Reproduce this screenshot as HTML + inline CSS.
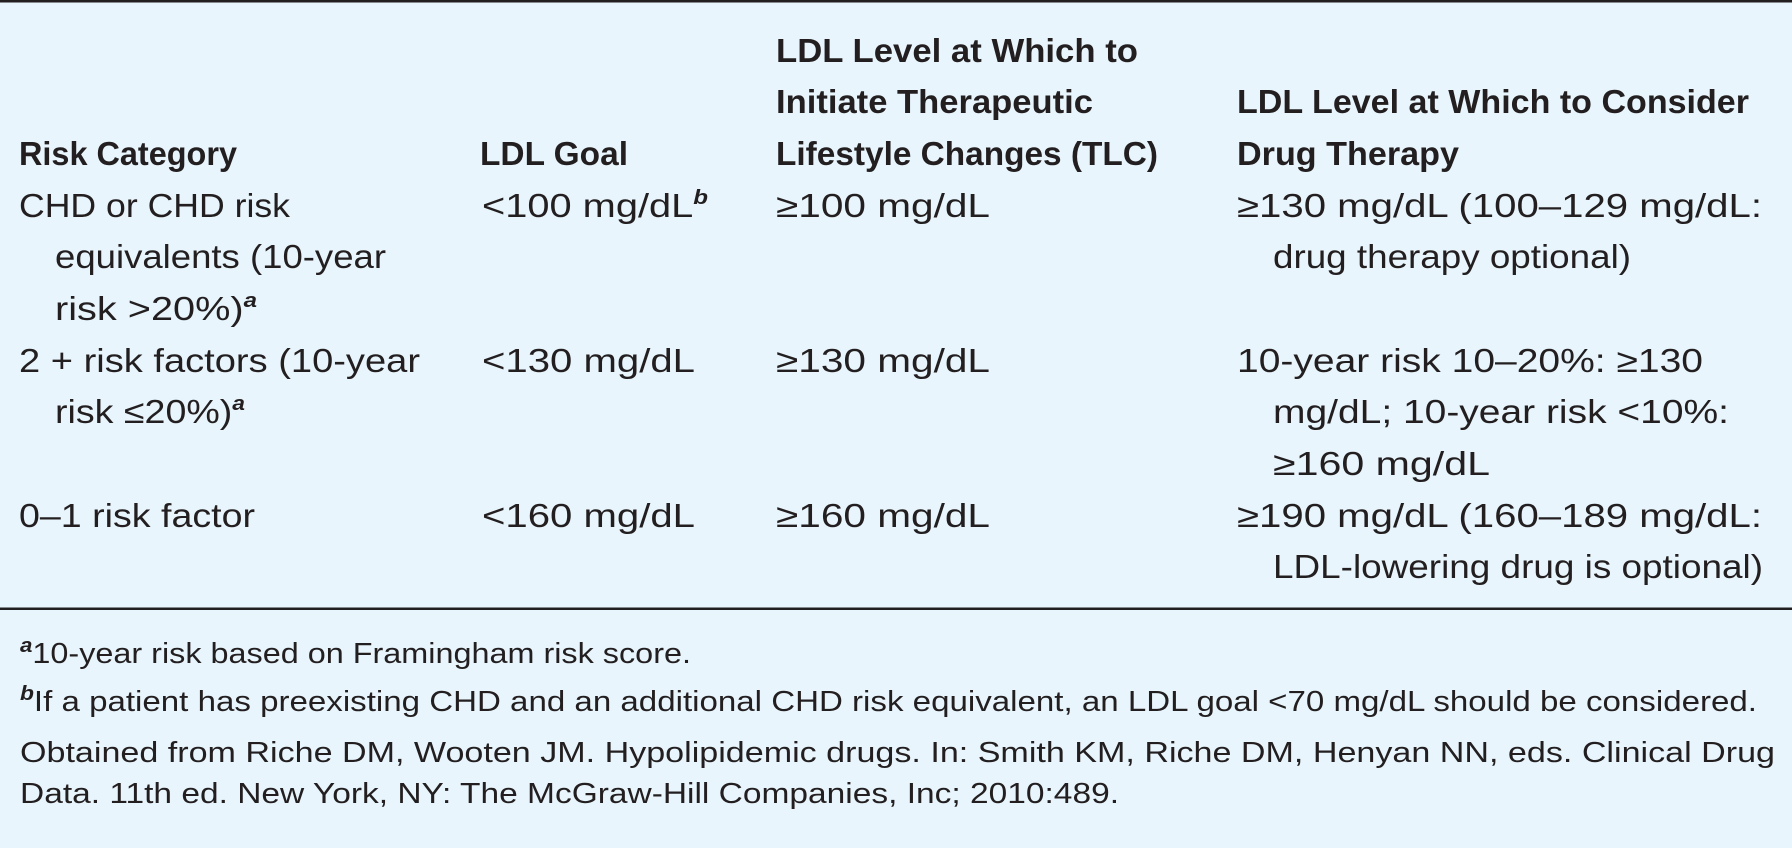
<!DOCTYPE html>
<html><head><meta charset="utf-8"><style>
html,body{margin:0;padding:0;background:#e8f5fc;}
svg{display:block;}
text{font-family:"Liberation Sans",sans-serif;fill:#231f20;}
.h{font-weight:bold;font-size:33px;}
.b{font-size:33px;}
.f{font-size:29px;}
.s{font-weight:bold;font-style:italic;font-size:20px;}
</style></head><body>
<svg width="1792" height="848" viewBox="0 0 1792 848" xmlns="http://www.w3.org/2000/svg">
<rect width="1792" height="848" fill="#e8f5fc"/>
<rect x="0" y="0" width="1792" height="2.5" fill="#231f20"/>
<rect x="0" y="607.5" width="1792" height="2.5" fill="#231f20"/>

<!-- header -->
<text class="h" x="776" y="62" textLength="362" lengthAdjust="spacingAndGlyphs">LDL Level at Which to</text>
<text class="h" x="776" y="113" textLength="317" lengthAdjust="spacingAndGlyphs">Initiate Therapeutic</text>
<text class="h" x="1237" y="113" textLength="512" lengthAdjust="spacingAndGlyphs">LDL Level at Which to Consider</text>
<text class="h" x="19" y="165" textLength="218" lengthAdjust="spacingAndGlyphs">Risk Category</text>
<text class="h" x="480" y="165" textLength="148" lengthAdjust="spacingAndGlyphs">LDL Goal</text>
<text class="h" x="776" y="165" textLength="382" lengthAdjust="spacingAndGlyphs">Lifestyle Changes (TLC)</text>
<text class="h" x="1237" y="165" textLength="222" lengthAdjust="spacingAndGlyphs">Drug Therapy</text>

<!-- row 1 -->
<text class="b" x="19" y="217" textLength="271" lengthAdjust="spacingAndGlyphs">CHD or CHD risk</text>
<text class="b" x="482" y="217" textLength="226" lengthAdjust="spacingAndGlyphs">&lt;100 mg/dL<tspan class="s" dy="-13">b</tspan></text>
<text class="b" x="776" y="217" textLength="214" lengthAdjust="spacingAndGlyphs">≥100 mg/dL</text>
<text class="b" x="1237" y="217" textLength="525" lengthAdjust="spacingAndGlyphs">≥130 mg/dL (100–129 mg/dL:</text>
<text class="b" x="55" y="268" textLength="331" lengthAdjust="spacingAndGlyphs">equivalents (10-year</text>
<text class="b" x="1273" y="268" textLength="358" lengthAdjust="spacingAndGlyphs">drug therapy optional)</text>
<text class="b" x="55" y="320" textLength="202" lengthAdjust="spacingAndGlyphs">risk &gt;20%)<tspan class="s" dy="-13">a</tspan></text>

<!-- row 2 -->
<text class="b" x="19" y="372" textLength="401" lengthAdjust="spacingAndGlyphs">2 + risk factors (10-year</text>
<text class="b" x="482" y="372" textLength="213" lengthAdjust="spacingAndGlyphs">&lt;130 mg/dL</text>
<text class="b" x="776" y="372" textLength="214" lengthAdjust="spacingAndGlyphs">≥130 mg/dL</text>
<text class="b" x="1237" y="372" textLength="466" lengthAdjust="spacingAndGlyphs">10-year risk 10–20%: ≥130</text>
<text class="b" x="55" y="423" textLength="190" lengthAdjust="spacingAndGlyphs">risk ≤20%)<tspan class="s" dy="-13">a</tspan></text>
<text class="b" x="1273" y="423" textLength="456" lengthAdjust="spacingAndGlyphs">mg/dL; 10-year risk &lt;10%:</text>
<text class="b" x="1273" y="475" textLength="217" lengthAdjust="spacingAndGlyphs">≥160 mg/dL</text>

<!-- row 3 -->
<text class="b" x="19" y="527" textLength="236" lengthAdjust="spacingAndGlyphs">0–1 risk factor</text>
<text class="b" x="482" y="527" textLength="213" lengthAdjust="spacingAndGlyphs">&lt;160 mg/dL</text>
<text class="b" x="776" y="527" textLength="214" lengthAdjust="spacingAndGlyphs">≥160 mg/dL</text>
<text class="b" x="1237" y="527" textLength="525" lengthAdjust="spacingAndGlyphs">≥190 mg/dL (160–189 mg/dL:</text>
<text class="b" x="1273" y="578" textLength="490" lengthAdjust="spacingAndGlyphs">LDL-lowering drug is optional)</text>

<!-- footnotes -->
<text class="f" x="20" y="663" textLength="671" lengthAdjust="spacingAndGlyphs"><tspan class="s" dy="-11">a</tspan><tspan dy="11">10-year risk based on Framingham risk score.</tspan></text>
<text class="f" x="20" y="711" textLength="1737" lengthAdjust="spacingAndGlyphs"><tspan class="s" dy="-11">b</tspan><tspan dy="11">If a patient has preexisting CHD and an additional CHD risk equivalent, an LDL goal &lt;70 mg/dL should be considered.</tspan></text>
<text class="f" x="20" y="762" textLength="1755" lengthAdjust="spacingAndGlyphs">Obtained from Riche DM, Wooten JM. Hypolipidemic drugs. In: Smith KM, Riche DM, Henyan NN, eds. Clinical Drug</text>
<text class="f" x="20" y="803" textLength="1099" lengthAdjust="spacingAndGlyphs">Data. 11th ed. New York, NY: The McGraw-Hill Companies, Inc; 2010:489.</text>
</svg>
</body></html>
